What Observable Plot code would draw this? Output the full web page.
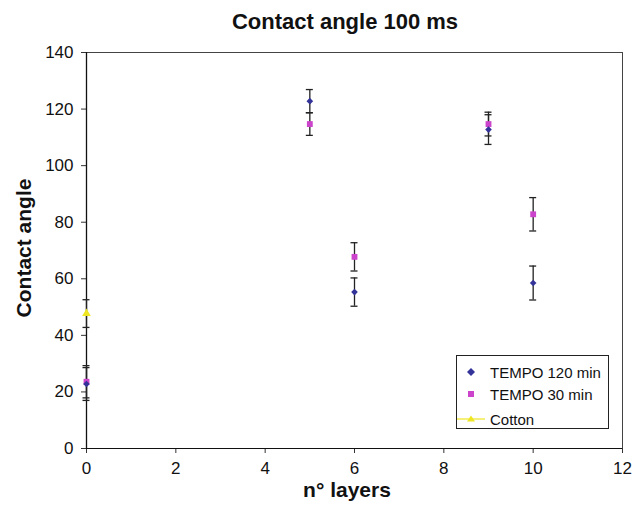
<!DOCTYPE html>
<html>
<head>
<meta charset="utf-8">
<script src="https://cdn.jsdelivr.net/npm/d3@7"></script>
<script src="https://cdn.jsdelivr.net/npm/@observablehq/plot@0.6"></script>
<style>
  body { margin: 0; background: #fff; font-family: "Liberation Sans", Arial, sans-serif; }
  #wrap { position: relative; width: 644px; height: 507px; overflow: hidden; }
  #title { position: absolute; left: 345px; top: 9px; transform: translateX(-50%); font-weight: bold; font-size: 22px; white-space: nowrap; color: #111; }
  #chart { position: absolute; left: 0; top: 40px; }
  #ylab { position: absolute; left: 24px; top: 248px; transform: translate(-50%, -50%) rotate(-90deg); font-weight: bold; font-size: 21px; white-space: nowrap; color: #111; }
  #xlab { position: absolute; left: 347px; top: 478px; transform: translateX(-50%); font-weight: bold; font-size: 21px; white-space: nowrap; color: #111; }
  #legend { position: absolute; left: 456px; top: 355px; width: 151px; height: 72px; border: 1px solid #222; background: #fff; font-size: 15px; color: #111; }
  .row { position: absolute; left: 0; height: 20px; display: flex; align-items: center; }
  .row svg { display: block; }
  .row span { margin-left: 4px; }
</style>
</head>
<body>
<div id="wrap">
  <div id="title">Contact angle 100 ms</div>
  <div id="chart"></div>
  <div id="ylab">Contact angle</div>
  <div id="xlab">n° layers</div>
  <div id="legend"></div>
</div>
<script>
// ---- data ----
const xLayers = [0, 5, 6, 9, 10];
const tempo120 = [22.8, 122.8, 55.3, 112.75, 58.5];
const tempo120Err = [5.8, 4.1, 5.0, 5.25, 6.0];
const tempo30 = [23.6, 114.7, 67.75, 114.7, 82.8];
const tempo30Err = [5.7, 4.0, 5.0, 4.2, 5.9];
const cottonX = [0];
const cotton = [47.7];
const cottonErr = [4.9];
const xTicks = [0, 2, 4, 6, 8, 10, 12];
const yTicks = [0, 20, 40, 60, 80, 100, 120, 140];
const seriesNames = ["TEMPO 120 min", "TEMPO 30 min", "Cotton"];
const seriesColors = ["#333399", "#CC44CC", "#EEE622"];

const rows120 = xLayers.map((x, i) => ({x, y: tempo120[i], e: tempo120Err[i]}));
const rows30 = xLayers.map((x, i) => ({x, y: tempo30[i], e: tempo30Err[i]}));
const rowsCotton = cottonX.map((x, i) => ({x, y: cotton[i], e: cottonErr[i]}));
const all = [...rows120, ...rows30, ...rowsCotton];

const errStroke = "#222";
const chart = Plot.plot({
  width: 644,
  height: 467,
  marginTop: 12,
  marginBottom: 59,
  marginLeft: 86,
  marginRight: 22,
  style: {fontFamily: "'Liberation Sans', Arial, sans-serif", fontSize: "17px", color: "#111", background: "#fff"},
  x: {domain: [0, 12]},
  y: {domain: [0, 140]},
  marks: [
    Plot.frame({stroke: "#444", strokeWidth: 1}),
    Plot.axisX({ticks: xTicks, tickSize: 5, tickPadding: 8, tickFormat: d => String(d), label: null, stroke: "#333"}),
    Plot.axisY({ticks: yTicks, tickSize: 5, tickPadding: 8, tickFormat: d => String(d), label: null, stroke: "#333"}),
    Plot.ruleY([0], {stroke: "#111"}),
    Plot.ruleX([0], {stroke: "#111", strokeWidth: 1.3}),
    Plot.ruleX(all, {x: "x", y1: d => d.y - d.e, y2: d => d.y + d.e, stroke: errStroke, strokeWidth: 1.3}),
    Plot.ruleY(all, {y: d => d.y - d.e, x1: "x", x2: "x", insetLeft: -3.5, insetRight: -3.5, stroke: errStroke, strokeWidth: 1.3}),
    Plot.ruleY(all, {y: d => d.y + d.e, x1: "x", x2: "x", insetLeft: -3.5, insetRight: -3.5, stroke: errStroke, strokeWidth: 1.3}),
    Plot.dot(rowsCotton, {x: "x", y: "y", symbol: "triangle", r: 3.2, fill: seriesColors[2], stroke: "none"}),
    Plot.dot(rows30, {x: "x", y: "y", symbol: "square", r: 3.3, fill: seriesColors[1], stroke: "none"}),
    Plot.dot(rows120, {x: "x", y: "y", symbol: "diamond2", r: 3.0, fill: seriesColors[0], stroke: "none"})
  ]
});
document.getElementById("chart").appendChild(chart);

// legend
const legend = document.getElementById("legend");
const rowTops = [6, 28, 53];
const shapes = [
  c => `<polygon points="14,6 18,10 14,14 10,10" fill="${c}"/>`,
  c => `<rect x="11" y="7" width="6" height="6" fill="${c}"/>`,
  c => `<line x1="0" y1="10" x2="28" y2="10" stroke="${c}" stroke-width="1.2"/><polygon points="14,6.5 18,12.5 10,12.5" fill="${c}"/>`
];
seriesNames.forEach((name, i) => {
  const r = document.createElement("div");
  r.className = "row";
  r.style.top = rowTops[i] + "px";
  r.innerHTML = `<svg width="29" height="20">${shapes[i](seriesColors[i])}</svg><span>${name}</span>`;
  legend.appendChild(r);
});
</script>
</body>
</html>
